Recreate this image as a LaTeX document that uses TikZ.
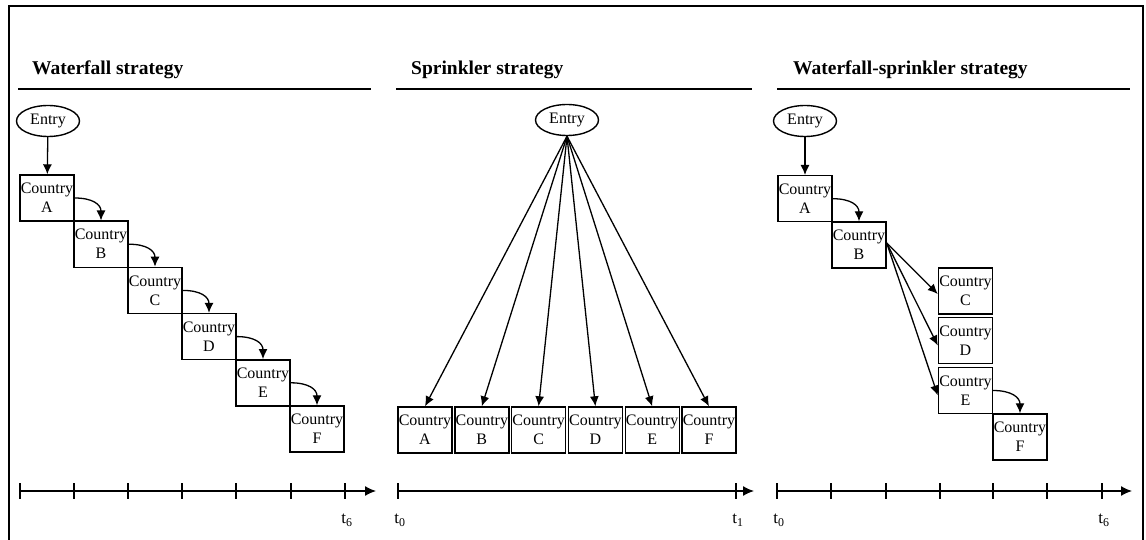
\documentclass[tikz,border=0pt]{standalone}
\usepackage{fontspec}
\setmainfont{Liberation Serif}
\usetikzlibrary{arrows.meta,shapes.geometric}
\begin{document}
\begin{tikzpicture}[x=1pt,y=-1pt,
  country/.style={draw,line width=1.4pt,rectangle,minimum width=54pt,minimum height=46pt,
    inner sep=0pt,align=center,font=\fontsize{16}{19}\selectfont},
  entry/.style={draw,line width=1.4pt,ellipse,minimum width=63pt,minimum height=31pt,
    inner sep=0pt,font=\fontsize{16}{18}\selectfont},
  flow/.style={line width=1.3pt,-{Latex[length=10pt,width=9pt]}},
  title/.style={anchor=base west,font=\fontsize{19.5}{22}\selectfont\bfseries,inner sep=0pt},
  rule/.style={line width=2.6pt},
  axis/.style={line width=1.3pt,-{Latex[length=11pt,width=10pt]}},
  tick/.style={line width=1.1pt},
  tlabel/.style={font=\fontsize{17}{19}\selectfont,inner sep=0pt}]
\useasboundingbox (0,0) rectangle (1146,540);

% outer frame
\draw[line width=1.6pt] (9,545) -- (9,6) -- (1143,6) -- (1143,545);

% section titles
\node[title] (t1) at (32,75) {Waterfall strategy};
\node[title] (t2) at (411,75) {Sprinkler strategy};
\node[title] (t3) at (793,75) {Waterfall-sprinkler strategy};
\draw[rule] (18,89) -- (371,89);
\draw[rule] (396,89) -- (752,89);
\draw[rule] (777,89) -- (1130,89);

% ---------- waterfall ----------
\node[entry] (we) at (48,121) {Entry};
\foreach \n/\l [count=\i from 0] in {wa/A,wb/B,wc/C,wd/D,wf/E,wg/F}
  \node[country] (\n) at ({47+54*\i},{198+46.2*\i}) {Country\\\l};
\draw[flow] (we) -- (wa);
\foreach \p/\q in {wa/wb,wb/wc,wc/wd,wd/wf,wf/wg}
  \draw[flow] (\p.east) .. controls +(18,0) and +(0,-16) .. (\q.north);

% time axis
\coordinate (wx0) at (20,491);
\coordinate (wx1) at (376,491);
\draw[axis] (wx0) -- (wx1);
\foreach \x in {20,74,128,182,236,291,345}
  \draw[tick] (\x,483) -- (\x,499);
\node[tlabel] (wt6) at (347,520) {t\textsubscript{6}};

% ---------- sprinkler ----------
\node[entry] (se) at (567,120) {Entry};
\foreach \n/\l [count=\i from 0] in {sa/A,sb/B,sc/C,sd/D,sf/E,sg/F}
  \node[country] (\n) at ({425+56.8*\i},430) {Country\\\l};
\foreach \n in {sa,sb,sc,sd,sf,sg}
  \draw[flow] (se.south) -- (\n.north);

\coordinate (sx0) at (398,491);
\coordinate (sx1) at (754,491);
\draw[axis] (sx0) -- (sx1);
\foreach \x in {398,736}
  \draw[tick] (\x,483) -- (\x,499);
\node[tlabel] (st0) at (400,520) {t\textsubscript{0}};
\node[tlabel] (st1) at (738,520) {t\textsubscript{1}};

% ---------- waterfall-sprinkler ----------
\node[entry] (xe) at (805,121) {Entry};
\node[country] (xa) at (805,198.7) {Country\\A};
\node[country] (xb) at (859,245) {Country\\B};
\node[country] (xc) at (965.5,291) {Country\\C};
\node[country] (xd) at (965.5,340.5) {Country\\D};
\node[country] (xf) at (965.5,390.5) {Country\\E};
\node[country] (xg) at (1020,437) {Country\\F};
\draw[flow] (xe) -- (xa);
\draw[flow] (xa.east) .. controls +(18,0) and +(0,-16) .. (xb.north);
\draw[flow] ([yshift=2pt]xb.east) -- ([yshift=-3pt]xc.west);
\draw[flow] ([yshift=2pt]xb.east) -- ([yshift=-5pt]xd.west);
\draw[flow] ([yshift=2pt]xb.east) -- ([yshift=-5pt]xf.west);
\draw[flow] (xf.east) .. controls +(18,0) and +(0,-16) .. (xg.north);

\coordinate (xx0) at (777,491);
\coordinate (xx1) at (1132,491);
\draw[axis] (xx0) -- (xx1);
\foreach \x in {777,831,886,940,993,1047,1102}
  \draw[tick] (\x,483) -- (\x,499);
\node[tlabel] (xt0) at (779,520) {t\textsubscript{0}};
\node[tlabel] (xt6) at (1104,520) {t\textsubscript{6}};
\end{tikzpicture}
\end{document}
